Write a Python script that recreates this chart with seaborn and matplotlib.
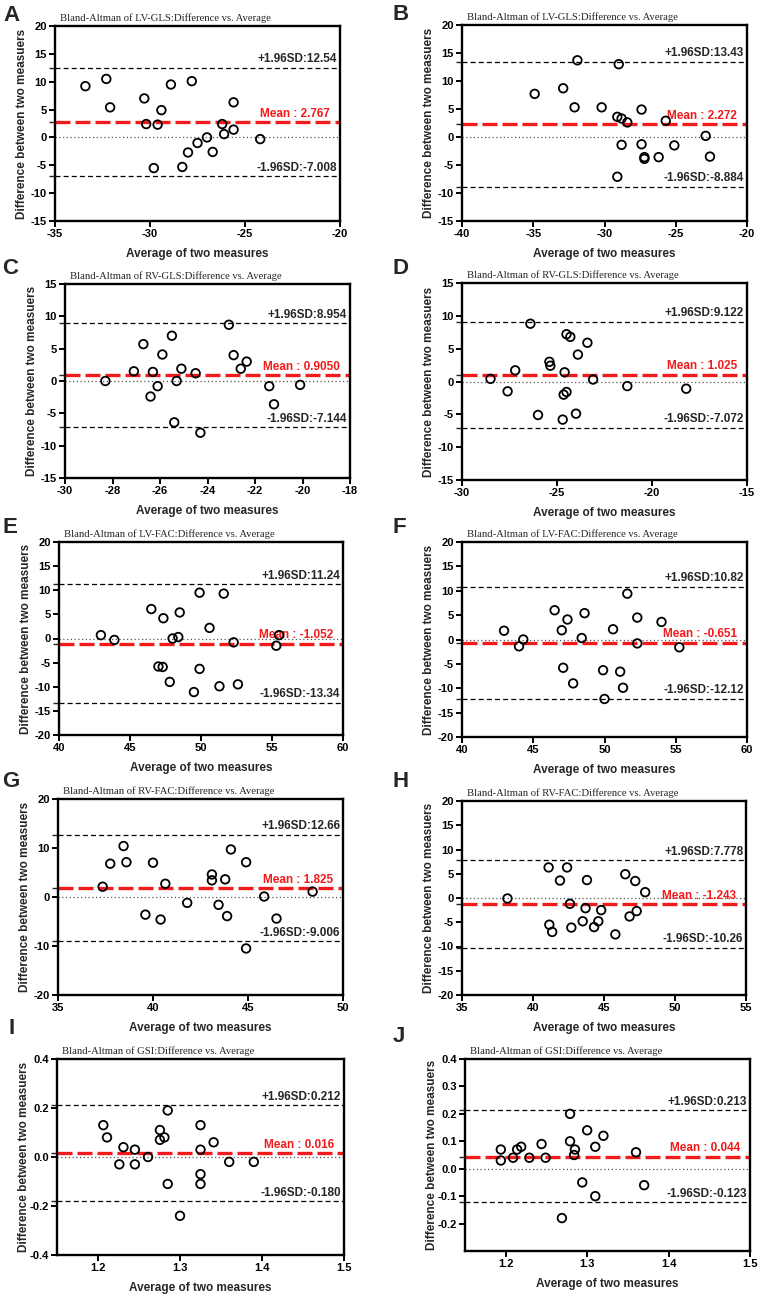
import matplotlib

matplotlib.use("Agg")
import matplotlib.pyplot as plt
import numpy as np
import seaborn as sns
from matplotlib.ticker import FormatStrFormatter

# values
lv_gls_a_avg = [-33.4, -32.3, -32.1, -30.3, -30.2, -29.8, -29.6, -29.4, -28.9, -28.3,
                -28.0, -27.8, -27.5, -27.0, -26.7, -26.2, -26.1, -25.6, -25.6, -24.2]
lv_gls_a_diff = [9.2, 10.5, 5.4, 7.0, 2.4, -5.5, 2.3, 4.9, 9.5, -5.3,
                 -2.7, 10.1, -1.0, 0.0, -2.6, 2.4, 0.6, 6.3, 1.4, -0.3]

lv_gls_b_avg = [-34.9, -32.9, -32.1, -31.9, -30.2, -29.0, -29.1, -29.1, -28.8, -28.8,
                -28.4, -27.4, -27.4, -27.2, -27.2, -26.2, -25.7, -25.1, -22.9, -22.6]
lv_gls_b_diff = [7.7, 8.7, 5.3, 13.7, 5.3, 13.0, -7.1, 3.6, 3.3, -1.4,
                 2.6, 4.9, -1.3, -3.6, -3.9, -3.6, 2.9, -1.5, 0.2, -3.5]

rv_gls_c_avg = [-28.3, -27.1, -26.7, -26.3, -26.4, -26.1, -25.9, -25.5, -25.4, -25.3,
                -25.1, -24.5, -24.3, -23.1, -22.9, -22.6, -22.35, -21.4, -21.2, -20.1]
rv_gls_c_diff = [0.0, 1.5, 5.7, 1.4, -2.4, -0.8, 4.1, 7.0, -6.4, 0.0,
                 1.9, 1.2, -8.0, 8.7, 4.0, 1.9, 3.0, -0.8, -3.6, -0.6]

rv_gls_d_avg = [-28.5, -27.6, -27.2, -26.4, -26.0, -25.4, -25.35, -24.7, -24.65, -24.6,
                -24.5, -24.5, -24.3, -24.0, -23.9, -23.4, -23.1, -21.3, -18.2]
rv_gls_d_diff = [0.4, -1.5, 1.7, 8.8, -5.1, 3.0, 2.4, -5.8, -2.0, 1.4,
                 7.2, -1.6, 6.8, -4.9, 4.1, 5.9, 0.3, -0.7, -1.1]

lv_fac_e_avg = [42.95, 43.9, 46.5, 47.0, 47.35, 47.3, 47.8, 48.0, 48.4, 48.5,
                49.5, 49.9, 49.9, 50.6, 51.3, 51.6, 52.3, 52.6, 55.3, 55.5]
lv_fac_e_diff = [0.7, -0.3, 6.1, -5.8, 4.2, -5.9, -9.0, 0.0, 0.3, 5.4,
                 -11.1, 9.5, -6.3, 2.2, -9.9, 9.3, -0.8, -9.5, -1.5, 0.7]

lv_fac_f_avg = [42.95, 44.0, 44.3, 46.5, 47.0, 47.1, 47.4, 47.8, 48.4, 48.6,
                49.9, 50.0, 50.6, 51.1, 51.3, 51.6, 52.3, 52.3, 54.0, 55.25]
lv_fac_f_diff = [1.8, -1.4, 0.0, 6.0, 1.9, -5.8, 4.1, -9.0, 0.3, 5.4,
                 -6.3, -12.2, 2.1, -6.6, -9.9, 9.4, 4.5, -0.8, 3.6, -1.6]

rv_fac_g_avg = [37.35, 37.75, 38.45, 38.6, 39.6, 40.0, 40.4, 40.65, 41.8, 43.1,
                43.1, 43.45, 43.8, 43.9, 44.1, 44.9, 44.9, 45.85, 46.5, 48.4]
rv_fac_g_diff = [2.1, 6.8, 10.4, 7.1, -3.6, 7.0, -4.6, 2.7, -1.2, 4.6,
                 3.4, -1.6, 3.6, -3.9, 9.7, 7.1, -10.5, 0.1, -4.4, 1.1]

rv_fac_h_avg = [38.2, 41.1, 41.15, 41.35, 41.9, 42.4, 42.6, 42.7, 43.5, 43.7,
                43.8, 44.3, 44.6, 44.8, 45.8, 46.5, 46.8, 47.2, 47.3, 47.9]
rv_fac_h_diff = [-0.1, 6.3, -5.5, -7.0, 3.6, 6.3, -1.2, -6.1, -4.8, -2.1,
                 3.7, -6.0, -4.8, -2.5, -7.5, 4.9, -3.8, 3.5, -2.7, 1.2]

gsi_i_avg = [1.2065, 1.211, 1.226, 1.231, 1.245, 1.245, 1.261, 1.2755, 1.2755, 1.281,
             1.285, 1.285, 1.30, 1.325, 1.325, 1.325, 1.325, 1.341, 1.36, 1.39]
gsi_i_diff = [0.13, 0.08, -0.03, 0.04, 0.03, -0.03, 0.0, 0.11, 0.07, 0.08,
              0.19, -0.11, -0.24, 0.13, 0.03, -0.07, -0.11, 0.06, -0.02, -0.02]

gsi_j_avg = [1.194, 1.194, 1.209, 1.214, 1.219, 1.229, 1.244, 1.249, 1.269, 1.279,
             1.279, 1.285, 1.284, 1.294, 1.30, 1.31, 1.31, 1.32, 1.36, 1.37]
gsi_j_diff = [0.07, 0.03, 0.04, 0.07, 0.08, 0.04, 0.09, 0.04, -0.18, 0.20,
              0.10, 0.07, 0.05, -0.05, 0.14, 0.08, -0.10, 0.12, 0.06, -0.06]

panel_letters = ["A", "B", "C", "D", "E", "F", "G", "H", "I", "J"]
panel_titles = [
    "Bland-Altman of LV-GLS:Difference vs. Average",
    "Bland-Altman of LV-GLS:Difference vs. Average",
    "Bland-Altman of RV-GLS:Difference vs. Average",
    "Bland-Altman of RV-GLS:Difference vs. Average",
    "Bland-Altman of LV-FAC:Difference vs. Average",
    "Bland-Altman of LV-FAC:Difference vs. Average",
    "Bland-Altman of RV-FAC:Difference vs. Average",
    "Bland-Altman of RV-FAC:Difference vs. Average",
    "Bland-Altman of GSI:Difference vs. Average",
    "Bland-Altman of GSI:Difference vs. Average",
]
upper_sd = ["12.54", "13.43", "8.954", "9.122", "11.24", "10.82", "12.66", "7.778", "0.212", "0.213"]
mean_bias = ["2.767", "2.272", "0.9050", "1.025", "-1.052", "-0.651", "1.825", "-1.243", "0.016", "0.044"]
lower_sd = ["-7.008", "-8.884", "-7.144", "-7.072", "-13.34", "-12.12", "-9.006", "-10.26", "-0.180", "-0.123"]

averages = [lv_gls_a_avg, lv_gls_b_avg, rv_gls_c_avg, rv_gls_d_avg, lv_fac_e_avg,
            lv_fac_f_avg, rv_fac_g_avg, rv_fac_h_avg, gsi_i_avg, gsi_j_avg]
differences = [lv_gls_a_diff, lv_gls_b_diff, rv_gls_c_diff, rv_gls_d_diff, lv_fac_e_diff,
               lv_fac_f_diff, rv_fac_g_diff, rv_fac_h_diff, gsi_i_diff, gsi_j_diff]

# axis setup per panel: (min, max, step)
x_ranges = [(-35, -20, 5), (-40, -20, 5), (-30, -18, 2), (-30, -15, 5), (40, 60, 5),
            (40, 60, 5), (35, 50, 5), (35, 55, 5), (1.15, 1.5, 0.1), (1.15, 1.5, 0.1)]
y_ranges = [(-15, 20, 5), (-15, 20, 5), (-15, 15, 5), (-15, 15, 5), (-20, 20, 5),
            (-20, 20, 5), (-20, 20, 10), (-20, 20, 5), (-0.4, 0.4, 0.2), (-0.3, 0.4, 0.1)]

# axes boxes in pixels: left, top, right, bottom
boxes = [(55, 26, 340, 221), (462, 25, 747, 221),
         (65, 284, 350, 478), (462, 283, 747, 480),
         (59, 542, 343, 735), (462, 542, 747, 737),
         (58, 799, 343, 995), (462, 801, 746, 995),
         (57, 1059, 344, 1255), (465, 1059, 750, 1251)]
letter_pos = [(3, 21), (393, 20), (2, 274), (393, 274), (2, 533), (393, 533),
              (2, 787), (393, 787), (8, 1034), (393, 1042)]

W, H = 761, 1300
RED = "#f21a1a"

sns.set_style("ticks")
plt.rcParams["font.family"] = ["Liberation Sans", "DejaVu Sans"]
plt.rcParams["font.weight"] = "bold"
plt.rcParams["axes.labelweight"] = "bold"
plt.rcParams["axes.unicode_minus"] = False

fig = plt.figure(figsize=(W / 100, H / 100), dpi=100)


def px_rect(l, t, r, b):
    return [l / W, 1 - b / H, (r - l) / W, (b - t) / H]


for i in range(10):
    l, t, r, b = boxes[i]
    ax = fig.add_axes(px_rect(l, t, r, b))
    w_px, h_px = r - l, b - t
    hi, mu, lo = float(upper_sd[i]), float(mean_bias[i]), float(lower_sd[i])

    ax.axhline(0, color="#555555", lw=0.9, ls=(0, (1, 2)), zorder=1)
    ax.axhline(hi, color="black", lw=0.9, ls=(0, (4, 2.5)), zorder=1)
    ax.axhline(lo, color="black", lw=0.9, ls=(0, (4, 2.5)), zorder=1)
    ax.axhline(mu, color=RED, lw=2.4, ls=(0, (4.5, 1.5)), zorder=2)

    sns.scatterplot(x=averages[i], y=differences[i], ax=ax, s=38, fc="none",
                    ec="black", linewidth=1.3, zorder=5, clip_on=False)

    ytr = ax.get_yaxis_transform()
    ax.annotate(f"+1.96SD:{upper_sd[i]}", (0.99, hi), xycoords=ytr, xytext=(0, 1.8),
                textcoords="offset points", ha="right", va="bottom", fontsize=8.5)
    ax.annotate(f"-1.96SD:{lower_sd[i]}", (0.99, lo), xycoords=ytr, xytext=(0, 1.8),
                textcoords="offset points", ha="right", va="bottom", fontsize=8.5)
    ax.annotate(f"Mean : {mean_bias[i]}", (0.965, mu), xycoords=ytr, xytext=(0, 1.8),
                textcoords="offset points", ha="right", va="bottom", fontsize=8.5,
                color=RED)

    x0, x1, xs = x_ranges[i]
    y0, y1, ys = y_ranges[i]
    ax.set_xlim(x0, x1)
    ax.set_ylim(y0, y1)
    if i >= 8:
        ax.set_xticks(np.arange(1.2, 1.51, 0.1))
        ax.set_yticks(np.arange(-0.2 if i == 9 else y0, y1 + 1e-9, ys))
        ax.xaxis.set_major_formatter(FormatStrFormatter("%.1f"))
        ax.yaxis.set_major_formatter(FormatStrFormatter("%.1f"))
    else:
        ax.set_xticks(np.arange(x0, x1 + 1e-9, xs))
        ax.set_yticks(np.arange(y0, y1 + 1e-9, ys))
    ax.set_yticks([lo, mu, hi], minor=True)

    for side in ax.spines.values():
        side.set_linewidth(1.7)
        side.set_color("black")
    ax.tick_params(which="major", direction="out", length=4, width=1.4,
                   labelsize=8, pad=2, colors="black")
    ax.tick_params(axis="y", which="minor", direction="out", length=4, width=1.0)

    ax.set_xlabel("Average of two measures", fontsize=8.5)
    ax.set_ylabel("Difference between two measuers", fontsize=8.5)
    ax.xaxis.set_label_coords(0.5, -27 / h_px)
    ax.yaxis.set_label_coords(-27 / w_px, 0.5)

    ax.text(5 / w_px, 1 + 5 / h_px, panel_titles[i], transform=ax.transAxes,
            ha="left", va="baseline", fontsize=7.7, fontweight="normal",
            family=["Liberation Serif", "DejaVu Serif"])

    lx, ly = letter_pos[i]
    fig.text(lx / W, 1 - ly / H, panel_letters[i], ha="left", va="baseline",
             fontsize=16, fontweight="bold")

fig.savefig("out.png", dpi=100)
